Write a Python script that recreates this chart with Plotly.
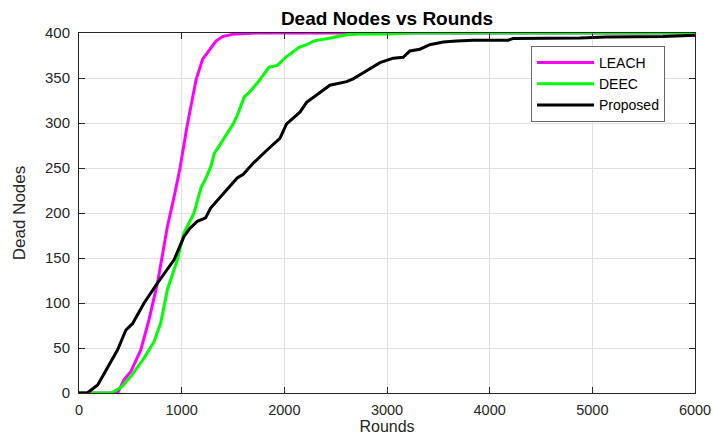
import plotly.graph_objects as go

# Rounds / dead-node counts for each protocol
leach_rounds = [0, 376, 440, 505, 602, 683, 764, 812, 861, 926, 984, 1050, 1100,
                1140, 1204, 1285, 1334, 1398, 1495, 1717, 6000]
leach_dead = [0, 0, 15, 24, 48, 82, 122, 152, 185, 218, 250, 295, 325,
              348, 371, 384, 391, 396, 398.5, 400, 400]

deec_rounds = [0, 311, 408, 505, 634, 731, 796, 861, 958, 1023, 1120, 1188, 1233,
               1285, 1317, 1398, 1502, 1543, 1609, 1657, 1754, 1851, 1932, 2013,
               2095, 2143, 2217, 2282, 2476, 2606, 2730, 3000, 3255, 6000]
deec_dead = [0, 0, 6, 18.5, 39, 57, 78, 115, 148, 178, 200, 228, 238,
             252, 266, 281, 299, 309, 329, 334, 347, 362, 364, 373,
             380, 384, 387, 391, 395, 398, 399, 399, 400, 400]

proposed_rounds = [0, 80, 182, 230, 327, 376, 420, 457, 521, 634, 764, 926, 1023,
                   1080, 1152, 1233, 1282, 1411, 1463, 1541, 1600, 1703, 1832,
                   1957, 2022, 2152, 2217, 2314, 2444, 2606, 2671, 2801, 2931,
                   3061, 3158, 3223, 3320, 3417, 3547, 3677, 3839, 4180, 4229,
                   4878, 5138, 5690, 5852, 6000]
proposed_dead = [0, 0, 9, 18.5, 37, 48, 60, 70, 77, 100, 122, 148, 174,
                 183, 190.7, 194.6, 205.5, 222, 228, 239, 243, 256, 270,
                 283, 299, 312, 323, 331, 342, 346, 349, 358, 367,
                 372, 373, 380, 382, 387, 390, 391, 392, 392, 394,
                 394.5, 395.5, 396, 397, 397.5]

x_ticks = [0, 1000, 2000, 3000, 4000, 5000, 6000]
y_ticks = [0, 50, 100, 150, 200, 250, 300, 350, 400]

FONT = "Liberation Sans, Arial, sans-serif"
INK = "#262626"

fig = go.Figure()
for name, xs, ys, color in [
    ("LEACH", leach_rounds, leach_dead, "#ff00ff"),
    ("DEEC", deec_rounds, deec_dead, "#00ff00"),
    ("Proposed", proposed_rounds, proposed_dead, "#000000"),
]:
    fig.add_trace(go.Scatter(x=xs, y=ys, mode="lines", name=name,
                             line=dict(color=color, width=3)))

axis_common = dict(
    showline=True, linecolor=INK, linewidth=1, mirror="ticks",
    ticks="inside", ticklen=6, tickcolor=INK, automargin=True,
    showgrid=True, gridcolor="#e0e0e0", gridwidth=1, zeroline=False,
)

fig.update_layout(
    width=713, height=435,
    margin=dict(l=79, r=18, t=33, b=42, autoexpand=False),
    paper_bgcolor="white", plot_bgcolor="white",
    title=dict(text="<b>Dead Nodes vs Rounds</b>", x=(79 + 695) / 2 / 713,
               xanchor="center", y=1 - 18 / 435, yanchor="middle",
               yref="container",
               font=dict(family=FONT, size=19, color="#000000")),
    xaxis=dict(range=[0, 6000], tickvals=x_ticks, ticklabelstandoff=4,
               tickfont=dict(family=FONT, size=14.5, color=INK),
               title=dict(text="Rounds", standoff=4,
                          font=dict(family=FONT, size=16, color=INK)),
               **axis_common),
    yaxis=dict(range=[0, 400], tickvals=y_ticks, ticklabelstandoff=5,
               tickfont=dict(family=FONT, size=15, color=INK),
               title=dict(text="Dead Nodes", standoff=15,
                          font=dict(family=FONT, size=17, color=INK)),
               **axis_common),
    legend=dict(x=(531 - 79) / 616, y=0.964, xanchor="left", yanchor="top",
                bgcolor="white", bordercolor="#666666", borderwidth=1,
                font=dict(family=FONT, size=14, color="#000000"),
                tracegroupgap=0, itemwidth=57),
    showlegend=True,
)

fig.write_html("out.html")
